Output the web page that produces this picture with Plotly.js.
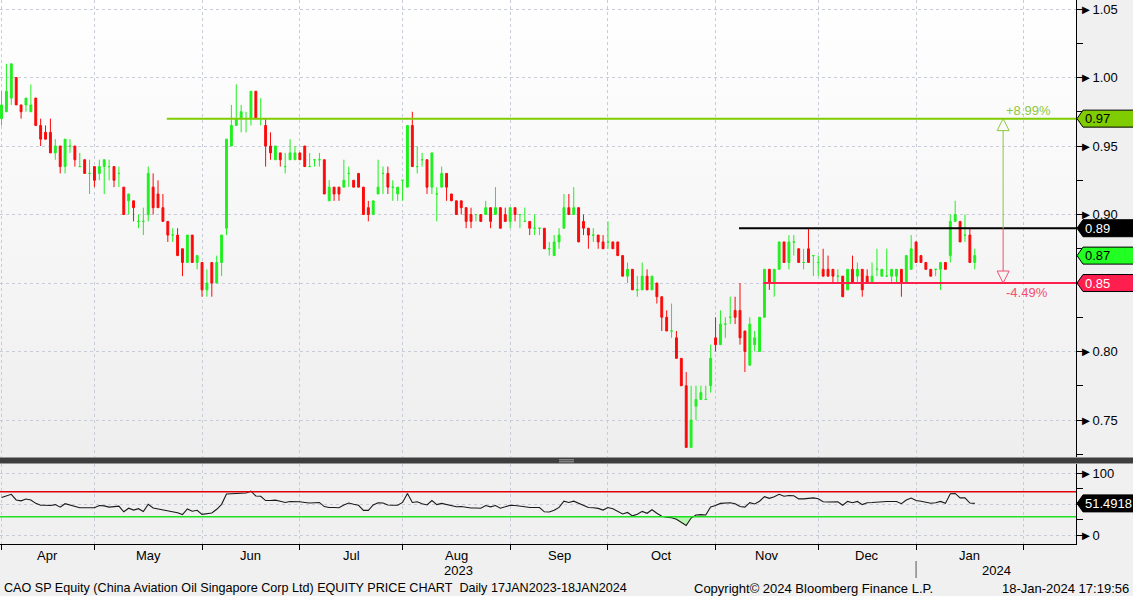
<!DOCTYPE html>
<html>
<head>
<meta charset="utf-8">
<script src="https://cdn.plot.ly/plotly-3.0.1.min.js"></script>
<style>
html,body{margin:0;padding:0;background:#f0f0f0;}
#chart{width:1133px;height:596px;}
</style>
</head>
<body>
<div id="chart"></div>
<script>
// ---------------- DATA ----------------
// SGX closed days inside the charted window (weekends are skipped as well)
const closedDays = ['2023-04-07','2023-05-01','2023-06-02','2023-06-29','2023-08-09',
                    '2023-09-01','2023-11-13','2023-12-25','2024-01-01'];
const firstTradingDay = '2023-04-03';
const lastAxisDay = '2024-02-16';

const open = [
 .970,.975,.985,1.000,.980,.980,.975,.985,.965,.960,
 .960,.945,.950,.935,.950,.950,.935,.940,.930,.935,
 .930,.935,.935,.935,.930,.920,.910,.910,.895,.895,
 .900,.920,.915,.905,.895,.885,.885,.875,.865,.885,
 .865,.865,.845,.865,.850,.865,.890,.950,.965,.970,
 .970,.970,.990,.970,.965,.950,.940,.945,.935,.940,
 .940,.945,.950,.935,.940,.940,.940,.910,.920,.920,
 .920,.930,.925,.930,.920,.905,.900,.915,.930,.930,
 .920,.915,.925,.920,.965,.935,.940,.940,.920,.915,
 .920,.930,.915,.910,.910,.905,.900,.900,.900,.900,
 .905,.900,.905,.900,.895,.905,.900,.895,.895,.890,
 .890,.890,.875,.870,.880,.890,.905,.900,.905,.895,
 .890,.885,.885,.880,.880,.880,.880,.870,.855,.860,
 .845,.845,.855,.845,.850,.840,.825,.815,.810,.795,
 .775,.730,.760,.765,.765,.775,.810,.805,.820,.825,
 .830,.830,.815,.790,.805,.800,.825,.860,.850,.860,
 .880,.865,.880,.875,.865,.875,.870,.865,.860,.860,
 .860,.855,.855,.845,.860,.855,.860,.855,.850,.860,
 .855,.855,.855,.855,.860,.850,.860,.880,.870,.865,
 .860,.860,.860,.865,.870,.895,.895,.885,.885,.865];
const high = [
 .990,1.010,1.010,1.000,.980,.985,.995,.985,.970,.965,
 .970,.955,.950,.955,.955,.950,.945,.940,.940,.935,
 .940,.940,.940,.935,.935,.920,.915,.910,.900,.905,
 .935,.930,.925,.915,.895,.890,.890,.875,.885,.885,
 .870,.865,.860,.865,.870,.885,.955,.980,.995,.980,
 .975,.990,.990,.985,.970,.960,.950,.945,.945,.955,
 .950,.945,.950,.945,.940,.945,.940,.925,.920,.920,
 .940,.935,.925,.930,.920,.910,.910,.940,.935,.935,
 .925,.920,.925,.965,.975,.950,.945,.940,.945,.920,
 .935,.930,.915,.910,.910,.905,.905,.900,.900,.910,
 .905,.920,.905,.905,.905,.905,.900,.905,.895,.900,
 .890,.890,.880,.885,.890,.915,.915,.920,.905,.900,
 .890,.890,.885,.885,.895,.880,.880,.870,.865,.860,
 .855,.865,.860,.855,.850,.840,.830,.835,.815,.795,
 .785,.775,.775,.775,.775,.805,.825,.830,.825,.840,
 .840,.850,.815,.825,.815,.825,.860,.860,.860,.880,
 .880,.885,.885,.875,.875,.890,.870,.870,.875,.870,
 .860,.860,.855,.860,.870,.865,.860,.860,.865,.875,
 .860,.875,.860,.860,.860,.870,.885,.880,.870,.865,
 .860,.860,.865,.865,.900,.910,.895,.900,.890,.875];
const low = [
 .965,.975,.980,.980,.970,.975,.975,.965,.950,.955,
 .945,.940,.930,.930,.945,.935,.935,.930,.915,.920,
 .925,.915,.925,.920,.920,.900,.900,.895,.890,.885,
 .895,.900,.905,.895,.880,.880,.870,.855,.865,.865,
 .860,.840,.840,.840,.850,.855,.885,.950,.965,.960,
 .960,.965,.970,.965,.935,.940,.940,.935,.930,.940,
 .940,.940,.935,.935,.935,.935,.915,.910,.910,.910,
 .920,.920,.920,.920,.900,.895,.900,.915,.915,.915,
 .910,.910,.910,.920,.935,.930,.935,.915,.915,.895,
 .920,.910,.910,.900,.900,.890,.890,.895,.895,.900,
 .890,.900,.890,.895,.890,.895,.890,.895,.885,.885,
 .885,.875,.870,.870,.875,.890,.900,.900,.880,.885,
 .875,.880,.875,.875,.875,.875,.870,.855,.850,.845,
 .840,.845,.845,.845,.835,.815,.815,.810,.795,.775,
 .730,.730,.750,.765,.765,.770,.800,.805,.810,.820,
 .820,.805,.785,.790,.800,.800,.825,.845,.840,.860,
 .865,.860,.870,.865,.860,.865,.855,.855,.855,.855,
 .850,.850,.840,.845,.850,.850,.840,.850,.850,.855,
 .855,.855,.850,.850,.840,.850,.860,.865,.865,.860,
 .855,.855,.845,.860,.865,.895,.880,.880,.865,.860];
const close = [
 .980,.990,1.010,.980,.975,.985,.980,.965,.955,.955,
 .945,.950,.935,.955,.950,.940,.935,.930,.930,.925,
 .935,.940,.935,.925,.930,.900,.915,.905,.895,.895,
 .930,.905,.905,.895,.885,.885,.870,.865,.885,.865,
 .870,.845,.850,.850,.865,.885,.955,.965,.970,.975,
 .970,.990,.970,.970,.950,.945,.950,.940,.935,.945,
 .945,.940,.935,.935,.940,.940,.915,.920,.915,.915,
 .925,.930,.920,.920,.900,.900,.910,.920,.930,.920,
 .920,.920,.925,.965,.935,.935,.940,.920,.945,.915,
 .930,.920,.910,.900,.905,.895,.895,.900,.895,.905,
 .895,.905,.890,.895,.905,.900,.900,.895,.890,.890,
 .890,.875,.875,.880,.885,.905,.900,.905,.880,.890,
 .885,.885,.880,.875,.880,.875,.870,.855,.860,.845,
 .845,.855,.845,.855,.840,.825,.815,.815,.795,.775,
 .730,.750,.765,.770,.765,.795,.805,.820,.820,.825,
 .825,.810,.800,.820,.810,.825,.860,.850,.860,.880,
 .865,.880,.880,.865,.865,.865,.870,.865,.855,.855,
 .855,.855,.840,.860,.850,.860,.845,.850,.855,.860,
 .860,.855,.860,.860,.850,.870,.875,.865,.865,.860,
 .855,.860,.865,.860,.895,.900,.880,.885,.865,.870];
// RSI (14)
const rsi = [
 61,63,66,57,55.5,58.5,57,51.5,48.5,48.5,
 48,49.5,45.5,51,48.5,46,44.5,44.5,44.5,44.5,
 48,47.5,45.5,46,47,38,43.8,40.8,43,38.5,
 50,44,42.5,41.5,39,38.3,36.5,33.6,42.5,39,
 40.5,34,35,36,42,50,66.5,67,67.2,67.5,
 68,71,63.3,62.8,56,56,56.7,55,53,54.6,
 54.5,54,53,52,52.5,53,46.4,45,45,44.5,
 49,52,50,48.5,40.3,40.3,49,52.6,52,49,
 48.5,48.5,53,67.4,53,54,51,49,56,49.5,
 51.5,49.5,47.5,46,46.4,45,44,44,43.8,48,
 45.9,48,43.8,46,48.5,48,47.4,46,44.9,45,
 44.9,38,37.7,40.5,45,55,53,55,52,48,
 44.9,44.5,43.5,40.8,44.9,43,39,34.6,37,31.5,
 34,38.7,35.6,41.3,35.6,31,29.5,28.5,26,21,
 16,28,33,33.5,33,45.9,48,51.5,52,52.6,
 51,46.5,45.5,52.6,50.5,55,62.3,59.5,62,66,
 63,64,63.8,58.7,58.7,59.5,60.3,59,54,53.6,
 53.6,54,48.5,54.6,52.6,54.6,49.5,52.6,52.8,53.5,
 55,54.6,54.6,54.6,51,57,60,56,55,53,
 51.6,52.5,54.6,51.5,67,67.4,60.3,60.3,52,51.4918];
const rsiUpper = 70, rsiLower = 30;

// price axis labels (0.85 sits under the support box)
const priceTicks = [0.75, 0.80, 0.85, 0.90, 0.95, 1.00, 1.05];

// chart annotations (levels drawn by the analyst)
const levels = { resistance: 0.97, pivot: 0.89, support: 0.85 };
const levelStarts = { resistance: '2023-05-23', pivot: '2023-11-08', support: '2023-11-16' };
const arrowDate = '2024-01-26';
const monthNames = ['Jan','Feb','Mar','Apr','May','Jun','Jul','Aug','Sep','Oct','Nov','Dec'];
const footerLeft = 'CAO SP Equity (China Aviation Oil Singapore Corp Ltd) EQUITY PRICE CHART\u00a0\u00a0Daily 17JAN2023-18JAN2024';
const footerMid = 'Copyright\u00a9 2024 Bloomberg Finance L.P.';
const footerRight = '18-Jan-2024 17:19:56';

// ---------------- BUILD ----------------
function tradingCalendar(start, end, closed) {
  const out = [];
  const d = new Date(start + 'T00:00:00Z');
  const e = new Date(end + 'T00:00:00Z');
  while (d <= e) {
    const wd = d.getUTCDay();
    const s = d.toISOString().slice(0, 10);
    if (wd !== 0 && wd !== 6 && closed.indexOf(s) < 0) out.push(s);
    d.setUTCDate(d.getUTCDate() + 1);
  }
  return out;
}
const calendar = tradingCalendar(firstTradingDay, lastAxisDay, closedDays);
const dates = calendar.slice(0, close.length);
const idx = dates.map((d, i) => calendar.indexOf(d));

const FONT = 'Liberation Sans, Arial, sans-serif';
const GREEN = '#1ff01f', RED = '#fb0a0a';
const X_RANGE = [-0.31, 219.7];
const PRICE_RANGE = [0.723, 1.0566];
const RSI_RANGE = [-13.5, 114.5];
const PLOT_H = 544;            // px height of plotting area
const PRICE_BOTTOM = 457, RSI_TOP = 464;

// split candles by colour (close >= open -> green)
function pick(cond) {
  const o = {x:[], open:[], high:[], low:[], close:[], text:[]};
  for (let i = 0; i < close.length; i++) {
    if (cond(i)) {
      o.x.push(idx[i]); o.open.push(open[i]); o.high.push(high[i]);
      o.low.push(low[i]); o.close.push(close[i]); o.text.push(dates[i]);
    }
  }
  return o;
}
function candleTrace(sub, color) {
  return {
    type:'candlestick', x:sub.x, open:sub.open, high:sub.high, low:sub.low, close:sub.close,
    text:sub.text, xaxis:'x', yaxis:'y', hoverinfo:'none',
    increasing:{line:{color:color, width:1}, fillcolor:color},
    decreasing:{line:{color:color, width:1}, fillcolor:color},
    whiskerwidth:0
  };
}
const up = pick(i => close[i] >= open[i]);
const dn = pick(i => close[i] < open[i]);

const traces = [
  candleTrace(up, GREEN),
  candleTrace(dn, RED),
  // RSI oversold fill
  {type:'scatter', mode:'lines', x:idx, y:idx.map(() => rsiLower), xaxis:'x', yaxis:'y2',
   line:{width:0, color:'rgba(0,0,0,0)'}, hoverinfo:'none'},
  {type:'scatter', mode:'lines', x:idx, y:rsi.map(v => Math.min(v, rsiLower)), xaxis:'x', yaxis:'y2',
   fill:'tonexty', fillcolor:'#b8f5b0', line:{width:0}, hoverinfo:'none'},
  // RSI overbought fill
  {type:'scatter', mode:'lines', x:idx, y:idx.map(() => rsiUpper), xaxis:'x', yaxis:'y2',
   line:{width:0, color:'rgba(0,0,0,0)'}, hoverinfo:'none'},
  {type:'scatter', mode:'lines', x:idx, y:rsi.map(v => Math.max(v, rsiUpper)), xaxis:'x', yaxis:'y2',
   fill:'tonexty', fillcolor:'#f7c6c6', line:{width:0}, hoverinfo:'none'},
  // RSI line
  {type:'scatter', mode:'lines', x:idx, y:rsi, xaxis:'x', yaxis:'y2',
   line:{width:1.1, color:'#1a1a1a'}, hoverinfo:'none'}
];

// month ticks (first trading day of each month)
const monthStarts = [];
calendar.forEach((d, i) => {
  if (i === 0 || d.slice(0, 7) !== calendar[i - 1].slice(0, 7)) monthStarts.push(i);
});

const annotations = [];
const shapes = [];
const pyMonth = (PLOT_H - 555) / PLOT_H;
const pyYear = (PLOT_H - 570) / PLOT_H;
const pyFoot = (PLOT_H - 588) / PLOT_H;

for (let k = 0; k < monthStarts.length - 1; k++) {
  const s = monthStarts[k], e = monthStarts[k + 1];
  if (s >= dates.length) continue;
  const m = parseInt(calendar[s].slice(5, 7), 10) - 1;
  annotations.push({xref:'x', yref:'paper', x:(s + e) / 2, y:pyMonth, text:monthNames[m],
    showarrow:false, xanchor:'center', yanchor:'middle', font:{family:FONT, size:13, color:'#000'}});
}
// years
const yearStarts = monthStarts.filter(i => calendar[i].slice(5, 7) === '01');
const yBounds = [X_RANGE[0]].concat(yearStarts).concat([X_RANGE[1]]);
for (let k = 0; k < yBounds.length - 1; k++) {
  const a = yBounds[k], b = yBounds[k + 1];
  const yr = k === 0 ? calendar[0].slice(0, 4) : calendar[yearStarts[k - 1]].slice(0, 4);
  annotations.push({xref:'x', yref:'paper', x:(a + b) / 2, y:pyYear, text:yr, showarrow:false,
    xanchor:'center', yanchor:'middle', font:{family:FONT, size:13, color:'#000'}});
}
yearStarts.forEach(i => shapes.push({type:'line', xref:'x', yref:'paper', x0:i, x1:i,
  y0:(PLOT_H - 561) / PLOT_H, y1:(PLOT_H - 578) / PLOT_H, line:{color:'#555', width:1}}));

// footer
annotations.push({xref:'paper', yref:'paper', x:2 / 1076, y:pyFoot, text:footerLeft, showarrow:false,
  xanchor:'left', yanchor:'middle', font:{family:FONT, size:12.6, color:'#000'}});
annotations.push({xref:'paper', yref:'paper', x:813 / 1076, y:pyFoot, text:footerMid, showarrow:false,
  xanchor:'center', yanchor:'middle', font:{family:FONT, size:13, color:'#000'}});
annotations.push({xref:'paper', yref:'paper', x:1131 / 1076, y:pyFoot, text:footerRight, showarrow:false,
  xanchor:'right', yanchor:'middle', font:{family:FONT, size:13, color:'#000'}});

// separator band between panels
shapes.push({type:'rect', xref:'paper', yref:'paper', x0:-0.01, x1:1133 / 1076 + 0.01,
  y0:(PLOT_H - 463.5) / PLOT_H, y1:(PLOT_H - 457.5) / PLOT_H, fillcolor:'#3e3e3e', line:{width:0}, layer:'above'});
[459.8, 461.8].forEach(yy => shapes.push({type:'line', xref:'paper', yref:'paper',
  x0:559 / 1076, x1:574 / 1076, y0:(PLOT_H - yy) / PLOT_H, y1:(PLOT_H - yy) / PLOT_H,
  line:{color:'#a0a0a0', width:1}, layer:'above'}));

// level lines
const LIME = '#7fcc00', BLACK = '#000000', PINK = '#ff1f4f';
function levelLine(price, startDate, color) {
  shapes.push({type:'line', xref:'x', yref:'y', x0:calendar.indexOf(startDate) - 0.2, x1:X_RANGE[1] + 1,
    y0:price, y1:price, line:{color:color, width:2}, layer:'above'});
}
levelLine(levels.resistance, levelStarts.resistance, LIME);
levelLine(levels.pivot, levelStarts.pivot, BLACK);
levelLine(levels.support, levelStarts.support, PINK);

// measuring arrow
const pxPerPrice = PRICE_BOTTOM / (PRICE_RANGE[1] - PRICE_RANGE[0]);
const triH = 12, triHp = triH / pxPerPrice;
const ax = calendar.indexOf(arrowDate) - 0.2;
shapes.push({type:'line', xref:'x', yref:'y', x0:ax, x1:ax, y0:levels.resistance - triHp, y1:levels.pivot,
  line:{color:'#8cc83c', width:1}, layer:'above'});
shapes.push({type:'line', xref:'x', yref:'y', x0:ax, x1:ax, y0:levels.pivot, y1:levels.support + triHp,
  line:{color:'#f0506e', width:1}, layer:'above'});
shapes.push({type:'path', xref:'x', yref:'y', xsizemode:'pixel', ysizemode:'pixel', xanchor:ax,
  yanchor:levels.resistance, path:'M0,0 L-6,-12 L6,-12 Z', fillcolor:'rgba(255,255,255,0)',
  line:{color:'#8cc83c', width:1}, layer:'above'});
shapes.push({type:'path', xref:'x', yref:'y', xsizemode:'pixel', ysizemode:'pixel', xanchor:ax,
  yanchor:levels.support, path:'M0,0 L-6,12 L6,12 Z', fillcolor:'rgba(255,255,255,0)',
  line:{color:'#f0506e', width:1}, layer:'above'});
const upPct = (levels.resistance / levels.pivot - 1) * 100;
const dnPct = (levels.support / levels.pivot - 1) * 100;
annotations.push({xref:'x', yref:'y', x:ax, y:levels.resistance, yshift:8, xshift:1, xanchor:'left',
  yanchor:'middle', showarrow:false, text:'+' + upPct.toFixed(2) + '%', font:{family:FONT, size:13, color:'#8cc83c'}});
annotations.push({xref:'x', yref:'y', x:ax, y:levels.support, yshift:-9, xshift:1, xanchor:'left',
  yanchor:'middle', showarrow:false, text:dnPct.toFixed(2) + '%', font:{family:FONT, size:13, color:'#f0506e'}});

// right-hand value boxes
const boxedPrices = [];
function valueBox(yref, val, text, fill, txtColor) {
  if (yref === 'y') boxedPrices.push(val);
  shapes.push({type:'path', xref:'paper', yref:yref, xsizemode:'pixel', ysizemode:'pixel', xanchor:1,
    yanchor:val, path:'M1,0 L7,8.5 L62,8.5 L62,-8.5 L7,-8.5 Z', fillcolor:fill,
    line:{color:'#000', width:1}, layer:'above'});
  annotations.push({xref:'paper', yref:yref, x:1, y:val, xanchor:'left', yanchor:'middle', xshift:7,
    showarrow:false, text:text, font:{family:FONT, size:13, color:txtColor}});
}
valueBox('y', levels.resistance, levels.resistance.toFixed(2), LIME, '#000');
valueBox('y', levels.pivot, levels.pivot.toFixed(2), '#000', '#fff');
valueBox('y', close[close.length - 1], close[close.length - 1].toFixed(2), '#22ff22', '#000');
valueBox('y', levels.support, levels.support.toFixed(2), PINK, '#fff');
valueBox('y2', rsi[rsi.length - 1], rsi[rsi.length - 1].toFixed(4), '#000', '#fff');

// tick labels hidden where a value box covers them completely
const priceTickText = priceTicks.map(v =>
  boxedPrices.some(b => Math.abs(b - v) < 0.003) ? '' : '\u25BA' + v.toFixed(2));

// RSI thresholds
shapes.push({type:'line', xref:'paper', yref:'y2', x0:0, x1:1, y0:rsiUpper, y1:rsiUpper,
  line:{color:'#e00000', width:1.5}});
shapes.push({type:'line', xref:'paper', yref:'y2', x0:0, x1:1, y0:rsiLower, y1:rsiLower,
  line:{color:'#1ee01e', width:1.5}});

// gradient background of price panel
const gradSvg = "<svg xmlns='http://www.w3.org/2000/svg' width='10' height='100' preserveAspectRatio='none'>" +
  "<defs><linearGradient id='g' x1='0' y1='0' x2='0' y2='1'><stop offset='0' stop-color='#ffffff'/>" +
  "<stop offset='1' stop-color='#eeeeee'/></linearGradient></defs><rect width='10' height='100' fill='url(#g)'/></svg>";

const GRID = '#c8ccd8';
const layout = {
  width:1133, height:596,
  margin:{l:0, r:57, t:0, b:596 - PLOT_H},
  paper_bgcolor:'#f0f0f0', plot_bgcolor:'#f0f0f0',
  showlegend:false, hovermode:false, dragmode:false,
  boxgap:0.45,
  font:{family:FONT, size:13, color:'#000'},
  xaxis:{type:'linear', range:X_RANGE, anchor:'y2', rangeslider:{visible:false},
    tickmode:'array', tickvals:monthStarts, ticktext:monthStarts.map(() => ''),
    ticks:'outside', ticklen:5, tickcolor:'#000', showline:true, linecolor:'#000', linewidth:1,
    showgrid:true, gridcolor:GRID, griddash:'3px,3px', gridwidth:1, zeroline:false, fixedrange:true},
  yaxis:{domain:[(PLOT_H - PRICE_BOTTOM) / PLOT_H, 1], range:PRICE_RANGE, side:'right', anchor:'x',
    tickmode:'array', tickvals:priceTicks, ticktext:priceTickText, ticks:'',
    showline:true, linecolor:'#000', linewidth:1, showgrid:true, gridcolor:GRID, griddash:'3px,3px',
    zeroline:false, fixedrange:true, tickfont:{family:FONT, size:13, color:'#000'},
    minor:{tick0:0, dtick:0.025, ticks:'outside', ticklen:6, tickcolor:'#000', showgrid:false}},
  yaxis2:{domain:[0, (PLOT_H - RSI_TOP) / PLOT_H], range:RSI_RANGE, side:'right', anchor:'x',
    tickmode:'array', tickvals:[0, 50, 100], ticktext:['\u25BA0', '', '\u25BA100'], ticks:'',
    showline:true, linecolor:'#000', linewidth:1, showgrid:true, gridcolor:GRID, griddash:'3px,3px',
    zeroline:false, fixedrange:true, tickfont:{family:FONT, size:13, color:'#000'},
    minor:{tick0:0, dtick:25, ticks:'outside', ticklen:6, tickcolor:'#000', showgrid:false}},
  images:[{source:'data:image/svg+xml;base64,' + btoa(gradSvg), xref:'paper', yref:'paper',
    x:0, y:1, sizex:1, sizey:PRICE_BOTTOM / PLOT_H, xanchor:'left', yanchor:'top',
    sizing:'stretch', layer:'below'}],
  shapes:shapes,
  annotations:annotations
};

Plotly.newPlot('chart', traces, layout, {displayModeBar:false, staticPlot:true});
</script>
</body>
</html>
